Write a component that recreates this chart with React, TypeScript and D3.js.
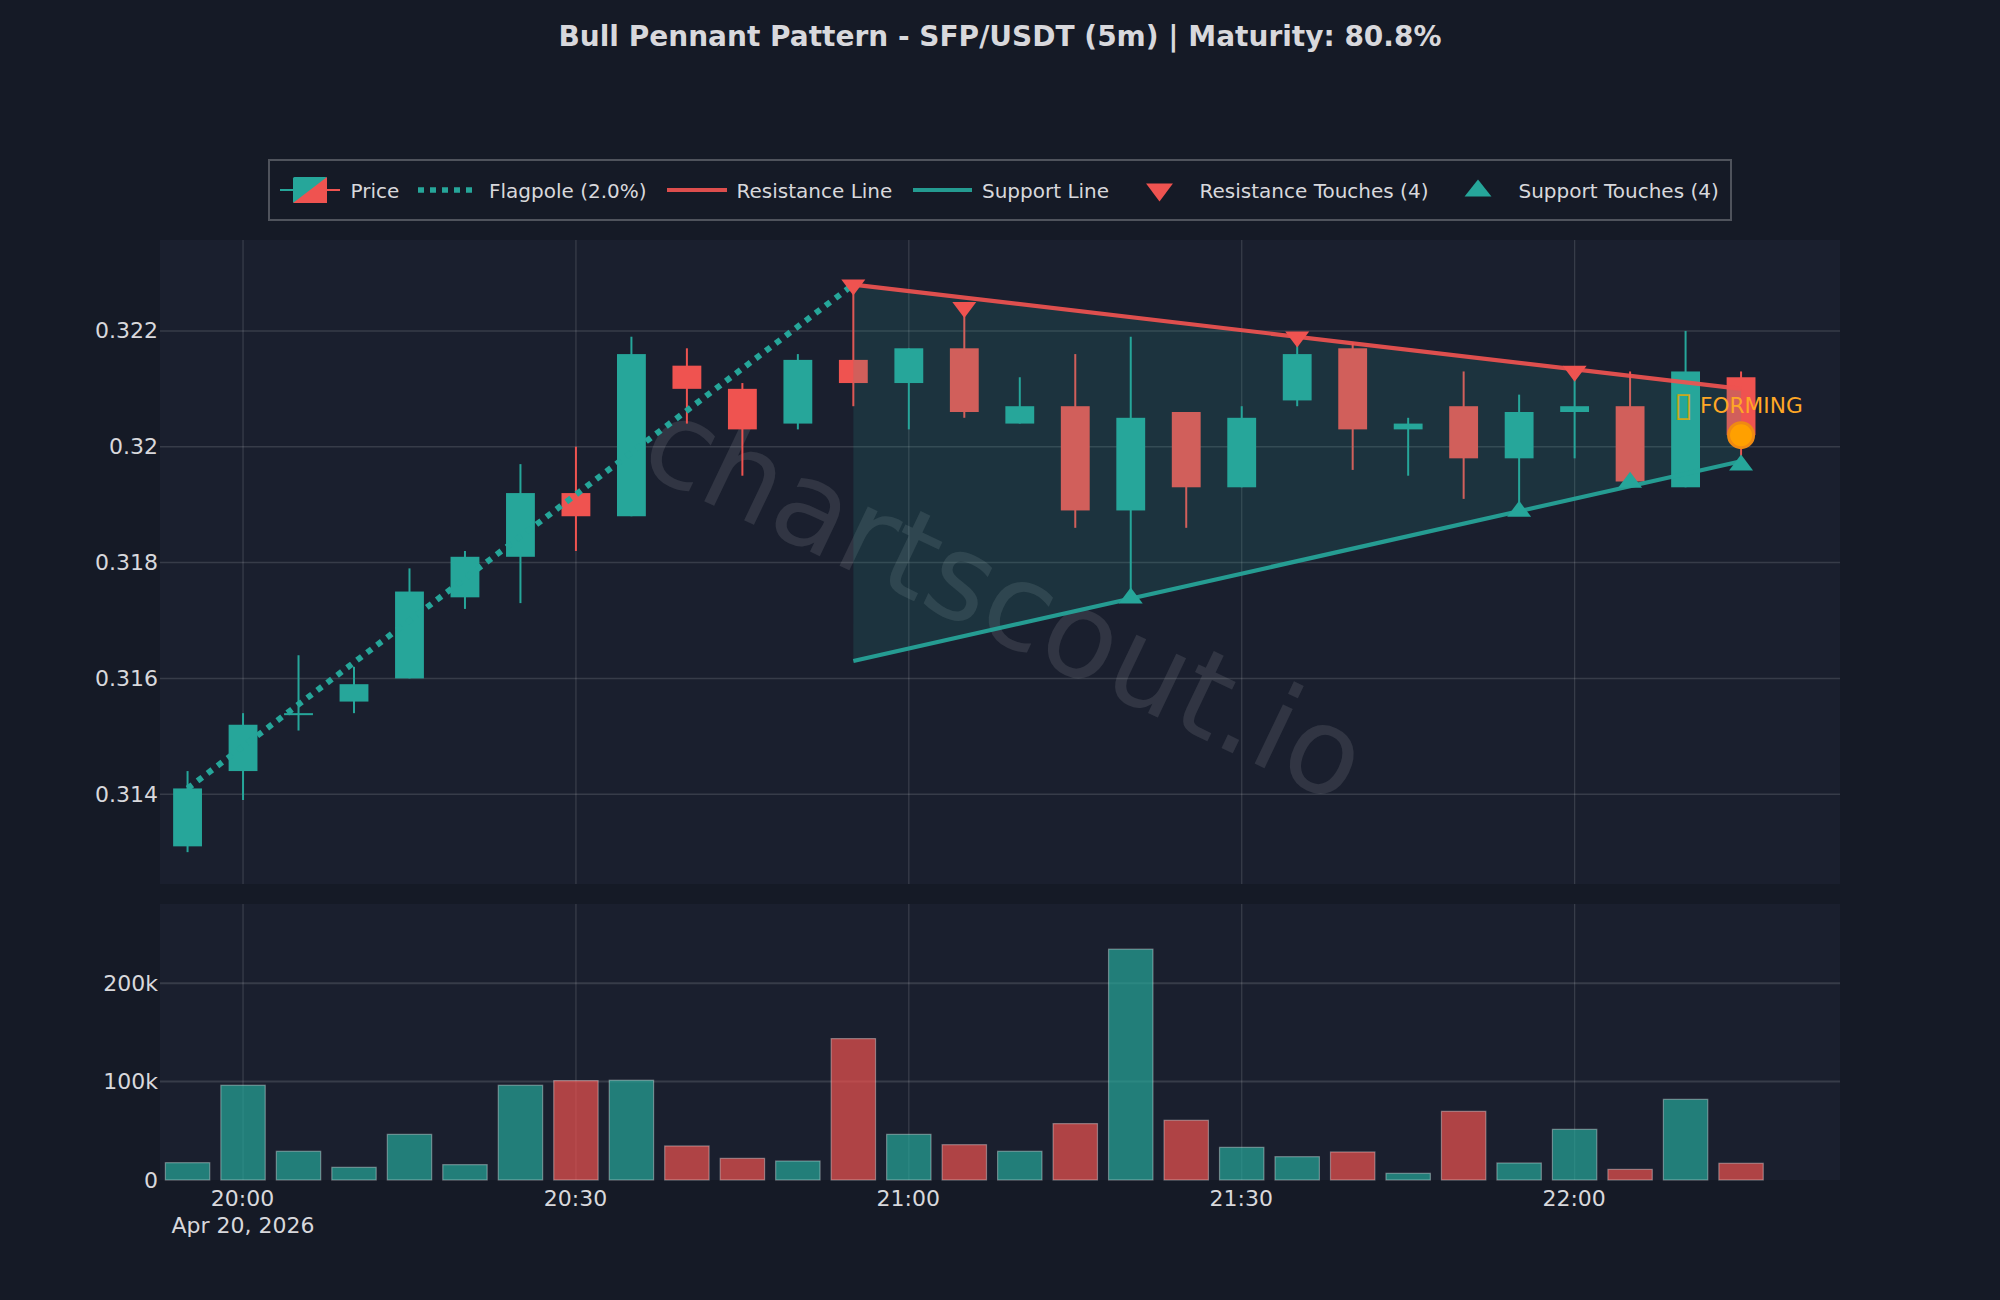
import { useEffect, useRef } from "react";
import * as d3 from "d3";

const times = ["19:55","20:00","20:05","20:10","20:15","20:20","20:25","20:30","20:35","20:40","20:45","20:50","20:55","21:00","21:05","21:10","21:15","21:20","21:25","21:30","21:35","21:40","21:45","21:50","21:55","22:00","22:05","22:10","22:15"];
const opens = [0.3131,0.3144,0.3154,0.3156,0.316,0.3174,0.3181,0.3192,0.3188,0.3214,0.321,0.3204,0.3215,0.3211,0.3217,0.3204,0.3207,0.3189,0.3206,0.3193,0.3208,0.3217,0.3203,0.3207,0.3198,0.3206,0.3207,0.3193,0.3212];
const closes = [0.3141,0.3152,0.3154,0.3159,0.3175,0.3181,0.3192,0.3188,0.3216,0.321,0.3203,0.3215,0.3211,0.3217,0.3206,0.3207,0.3189,0.3205,0.3193,0.3205,0.3216,0.3203,0.3204,0.3198,0.3206,0.3207,0.3194,0.3213,0.3202];
const highs = [0.3144,0.3154,0.3164,0.3162,0.3179,0.3182,0.3197,0.32,0.3219,0.3217,0.3211,0.3216,0.3228,0.3217,0.3224,0.3212,0.3216,0.3219,0.3206,0.3207,0.3219,0.3218,0.3205,0.3213,0.3209,0.3213,0.3213,0.322,0.3213];
const lows = [0.313,0.3139,0.3151,0.3154,0.316,0.3172,0.3173,0.3182,0.3188,0.3204,0.3195,0.3203,0.3207,0.3203,0.3205,0.3204,0.3186,0.3174,0.3186,0.3193,0.3207,0.3196,0.3195,0.3191,0.3189,0.3198,0.3194,0.3193,0.3198];
const volumes = [17600,96300,29200,12900,46400,15600,96300,101000,101400,34600,22000,19300,143700,46400,35900,29200,57300,234600,60700,33200,23700,28500,6800,69800,17300,51500,10800,82000,17000];

const priceTicks = [0.314, 0.316, 0.318, 0.32, 0.322];
const volumeTicks = [0, 100000, 200000];
const timeTicks = ["20:00", "20:30", "21:00", "21:30", "22:00"];

const flagpoleTimes = ["19:55", "20:55"];
const flagpolePrices = [0.3141, 0.3228];
const resistanceTimes = ["20:55", "22:15"];
const resistancePrices = [0.3228, 0.321];
const supportPrices = [0.3163, 0.31975];

const resistanceTouchTimes = ["20:55", "21:05", "21:35", "22:00"];
const resistanceTouchPrices = [0.32275, 0.32236, 0.32185, 0.32126];
const supportTouchTimes = ["21:20", "21:55", "22:05", "22:15"];
const supportTouchPrices = [0.31743, 0.31893, 0.31943, 0.31973];

const titleText = "Bull Pennant Pattern - SFP/USDT (5m) | Maturity: 80.8%";

const GREEN = "#26a69a";
const RED = "#ef5350";
const ORANGE = "#ffa726";
const TEXT = "#d8d8dc";

const parseTime = (s: string) => {
  const [h, m] = s.split(":").map(Number);
  return new Date(Date.UTC(2026, 3, 20, h, m));
};

export default function App() {
  const svgRef = useRef<SVGSVGElement>(null);

  useEffect(() => {
    if (!svgRef.current) return;
    const svg = d3.select(svgRef.current);
    svg.selectAll("*").remove();

    const font = "'DejaVu Sans', sans-serif";
    const left = 160, right = 1840;
    const priceTop = 240, priceBottom = 884;
    const volTop = 904, volBottom = 1180;

    // 30 min = 332.9px, domain
    const x = d3.scaleUtc()
      .domain([new Date(Date.UTC(2026, 3, 20, 19, 52, 31)), new Date(Date.UTC(2026, 3, 20, 22, 23, 55))])
      .range([left, right]);
    const y = d3.scaleLinear().domain([0.31245, 0.32357]).range([priceBottom, priceTop]);
    const yVol = d3.scaleLinear().domain([0, 280500]).range([volBottom, volTop]);

    const step = x(parseTime("20:05")) - x(parseTime("20:00"));
    const bodyW = step * 0.52;
    const barW = step * 0.8;

    svg.append("rect").attr("width", 2000).attr("height", 1300).attr("fill", "#151a26");

    // Panels and grid
    [[priceTop, priceBottom], [volTop, volBottom]].forEach(([t, b]) => {
      svg.append("rect")
        .attr("x", left).attr("y", t)
        .attr("width", right - left).attr("height", b - t)
        .attr("fill", "#1a1f2e");
      svg.append("g").selectAll("line").data(timeTicks).enter().append("line")
        .attr("x1", d => x(parseTime(d))).attr("x2", d => x(parseTime(d)))
        .attr("y1", t).attr("y2", b)
        .attr("stroke", "#fff").attr("stroke-opacity", 0.13).attr("stroke-width", 1.3);
    });
    svg.append("g").selectAll("line").data(priceTicks).enter().append("line")
      .attr("x1", left).attr("x2", right)
      .attr("y1", d => y(d)).attr("y2", d => y(d))
      .attr("stroke", "#fff").attr("stroke-opacity", 0.13).attr("stroke-width", 1.5);
    svg.append("g").selectAll("line").data(volumeTicks.slice(1)).enter().append("line")
      .attr("x1", left).attr("x2", right)
      .attr("y1", d => yVol(d)).attr("y2", d => yVol(d))
      .attr("stroke", "#fff").attr("stroke-opacity", 0.13).attr("stroke-width", 2);

    // Watermark
    svg.append("text")
      .attr("transform", "translate(1002,607) rotate(25.5)")
      .attr("text-anchor", "middle")
      .attr("dominant-baseline", "middle")
      .attr("font-family", font)
      .attr("font-size", 120)
      .attr("fill", "#fff")
      .attr("fill-opacity", 0.1)
      .text("chartscout.io");

    // Candles
    const candles = times.map((t, i) => ({
      t: parseTime(t), open: opens[i], close: closes[i], high: highs[i], low: lows[i], vol: volumes[i],
    }));
    const colorOf = (d: any) => (d.close >= d.open ? GREEN : RED);

    const candleG = svg.append("g");
    candleG.selectAll(".wick").data(candles).enter().append("line")
      .attr("class", "wick")
      .attr("x1", d => x(d.t)).attr("x2", d => x(d.t))
      .attr("y1", d => y(d.high)).attr("y2", d => y(d.low))
      .attr("stroke", colorOf).attr("stroke-width", 2);
    candleG.selectAll(".body").data(candles).enter().append("rect")
      .attr("class", "body")
      .attr("x", d => x(d.t) - bodyW / 2)
      .attr("y", d => y(Math.max(d.open, d.close)))
      .attr("width", bodyW)
      .attr("height", d => Math.max(2, Math.abs(y(d.open) - y(d.close))))
      .attr("fill", colorOf);

    // Volume bars
    svg.append("g").selectAll("rect").data(candles).enter().append("rect")
      .attr("x", d => x(d.t) - barW / 2)
      .attr("y", d => yVol(d.vol))
      .attr("width", barW)
      .attr("height", d => yVol(0) - yVol(d.vol))
      .attr("fill", colorOf)
      .attr("fill-opacity", 0.7)
      .attr("stroke", "#fff")
      .attr("stroke-opacity", 0.35)
      .attr("stroke-width", 1.2);

    const line = d3.line<[Date, number]>().x(d => x(d[0])).y(d => y(d[1]));

    // Flagpole
    svg.append("path")
      .attr("d", line(flagpoleTimes.map((t, i) => [parseTime(t), flagpolePrices[i]] as [Date, number])))
      .attr("fill", "none")
      .attr("stroke", GREEN)
      .attr("stroke-width", 6)
      .attr("stroke-dasharray", "6 6.5");

    // Pennant fill sits above the candles, that is why reds look washed out
    const resPts = resistanceTimes.map((t, i) => [parseTime(t), resistancePrices[i]] as [Date, number]);
    const supPts = resistanceTimes.map((t, i) => [parseTime(t), supportPrices[i]] as [Date, number]);
    svg.append("path")
      .attr("d", line([...resPts, ...supPts.slice().reverse()]) + "Z")
      .attr("fill", GREEN)
      .attr("fill-opacity", 0.15);
    svg.append("path").attr("d", line(resPts)).attr("fill", "none").attr("stroke", RED).attr("stroke-width", 4.2).attr("stroke-opacity", 0.92);
    svg.append("path").attr("d", line(supPts)).attr("fill", "none").attr("stroke", GREEN).attr("stroke-width", 4.2).attr("stroke-opacity", 0.92);

    // Touch markers
    const downTri = "M-12,-8L12,-8L0,8Z";
    const upTri = "M-12,8L12,8L0,-8Z";
    svg.append("g").selectAll("path").data(resistanceTouchTimes).enter().append("path")
      .attr("d", downTri)
      .attr("transform", (d, i) => `translate(${x(parseTime(d))},${y(resistanceTouchPrices[i])})`)
      .attr("fill", RED);
    svg.append("g").selectAll("path").data(supportTouchTimes).enter().append("path")
      .attr("d", upTri)
      .attr("transform", (d, i) => `translate(${x(parseTime(d))},${y(supportTouchPrices[i])})`)
      .attr("fill", GREEN);

    // Current price dot and status label
    const last = candles[candles.length - 1];
    svg.append("circle")
      .attr("cx", x(last.t)).attr("cy", y(last.close)).attr("r", 12.5)
      .attr("fill", "#ffa000").attr("stroke", "#ef8a12").attr("stroke-width", 3);
    // the source font has no glyph for its icon, it shows an empty box
    svg.append("text")
      .attr("x", 1674).attr("y", 416)
      .attr("font-family", font).attr("font-size", 34)
      .attr("fill", "#c9a91a")
      .text("\u25AF");
    svg.append("text")
      .attr("x", 1700).attr("y", 413)
      .attr("font-family", font).attr("font-size", 21.7)
      .attr("fill", ORANGE)
      .text("FORMING");

    // Axes
    const styleAxis = (g: any, size: number) => {
      g.select(".domain").remove();
      g.selectAll(".tick line").remove();
      g.selectAll("text").attr("fill", TEXT).attr("font-size", size).attr("font-family", font);
    };
    svg.append("g").attr("transform", "translate(158,0)")
      .call(d3.axisLeft(y).tickValues(priceTicks).tickSize(0).tickPadding(0).tickFormat(d => String(+d)) as any)
      .call(styleAxis, 22);
    svg.append("g").attr("transform", "translate(158,0)")
      .call(d3.axisLeft(yVol).tickValues(volumeTicks).tickSize(0).tickPadding(0).tickFormat(d3.format("~s") as any) as any)
      .call(styleAxis, 22);
    svg.append("g").attr("transform", `translate(-1,1190)`)
      .call(d3.axisBottom(x).tickValues(timeTicks.map(parseTime)).tickSize(0).tickPadding(0).tickFormat(d3.utcFormat("%H:%M") as any) as any)
      .call(styleAxis, 22);
    svg.append("text")
      .attr("x", x(parseTime("20:00"))).attr("y", 1233)
      .attr("text-anchor", "middle")
      .attr("font-family", font).attr("font-size", 22).attr("fill", TEXT)
      .text(d3.utcFormat("%b %-d, %Y")(parseTime("20:00")));

    // Title
    svg.append("text")
      .attr("x", 1000).attr("y", 46)
      .attr("text-anchor", "middle")
      .attr("font-family", font).attr("font-size", 28).attr("font-weight", "bold").attr("fill", TEXT)
      .text(titleText);

    // Legend
    const legend = svg.append("g");
    legend.append("rect")
      .attr("x", 269).attr("y", 160).attr("width", 1462).attr("height", 60)
      .attr("fill", "none").attr("stroke", "#fff").attr("stroke-opacity", 0.25).attr("stroke-width", 2);
    const legendY = 190;
    const labels: [number, string][] = [
      [350.5, "Price"], [489, "Flagpole (2.0%)"], [736.5, "Resistance Line"], [982, "Support Line"],
      [1199.5, "Resistance Touches (4)"], [1518.5, "Support Touches (4)"],
    ];
    legend.selectAll("text").data(labels).enter().append("text")
      .attr("x", d => d[0]).attr("y", legendY + 7.5)
      .attr("font-family", font).attr("font-size", 20).attr("fill", TEXT)
      .text(d => d[1]);
    legend.append("line").attr("x1", 280).attr("x2", 300).attr("y1", legendY).attr("y2", legendY).attr("stroke", GREEN).attr("stroke-width", 2);
    legend.append("line").attr("x1", 320).attr("x2", 340).attr("y1", legendY).attr("y2", legendY).attr("stroke", RED).attr("stroke-width", 2);
    legend.append("rect").attr("x", 293).attr("y", 177).attr("width", 34).attr("height", 26).attr("rx", 1.5).attr("fill", GREEN);
    legend.append("path").attr("d", "M293,203L327,177L327,203Z").attr("fill", RED);
    legend.append("line").attr("x1", 418).attr("x2", 474).attr("y1", legendY).attr("y2", legendY)
      .attr("stroke", GREEN).attr("stroke-width", 5.5).attr("stroke-dasharray", "6 6");
    legend.append("line").attr("x1", 667).attr("x2", 727).attr("y1", legendY).attr("y2", legendY).attr("stroke", RED).attr("stroke-width", 4.2).attr("stroke-opacity", 0.92);
    legend.append("line").attr("x1", 913).attr("x2", 972).attr("y1", legendY).attr("y2", legendY).attr("stroke", GREEN).attr("stroke-width", 4.2).attr("stroke-opacity", 0.92);
    legend.append("path").attr("d", downTri).attr("transform", "translate(1159.5,192.5) scale(1.12,1.12)").attr("fill", RED);
    legend.append("path").attr("d", upTri).attr("transform", "translate(1478,188) scale(1.12,1.06)").attr("fill", GREEN);
  }, []);

  return <svg ref={svgRef} width={2000} height={1300} style={{ position: "absolute", left: 0, top: 0, display: "block" }} />;
}
